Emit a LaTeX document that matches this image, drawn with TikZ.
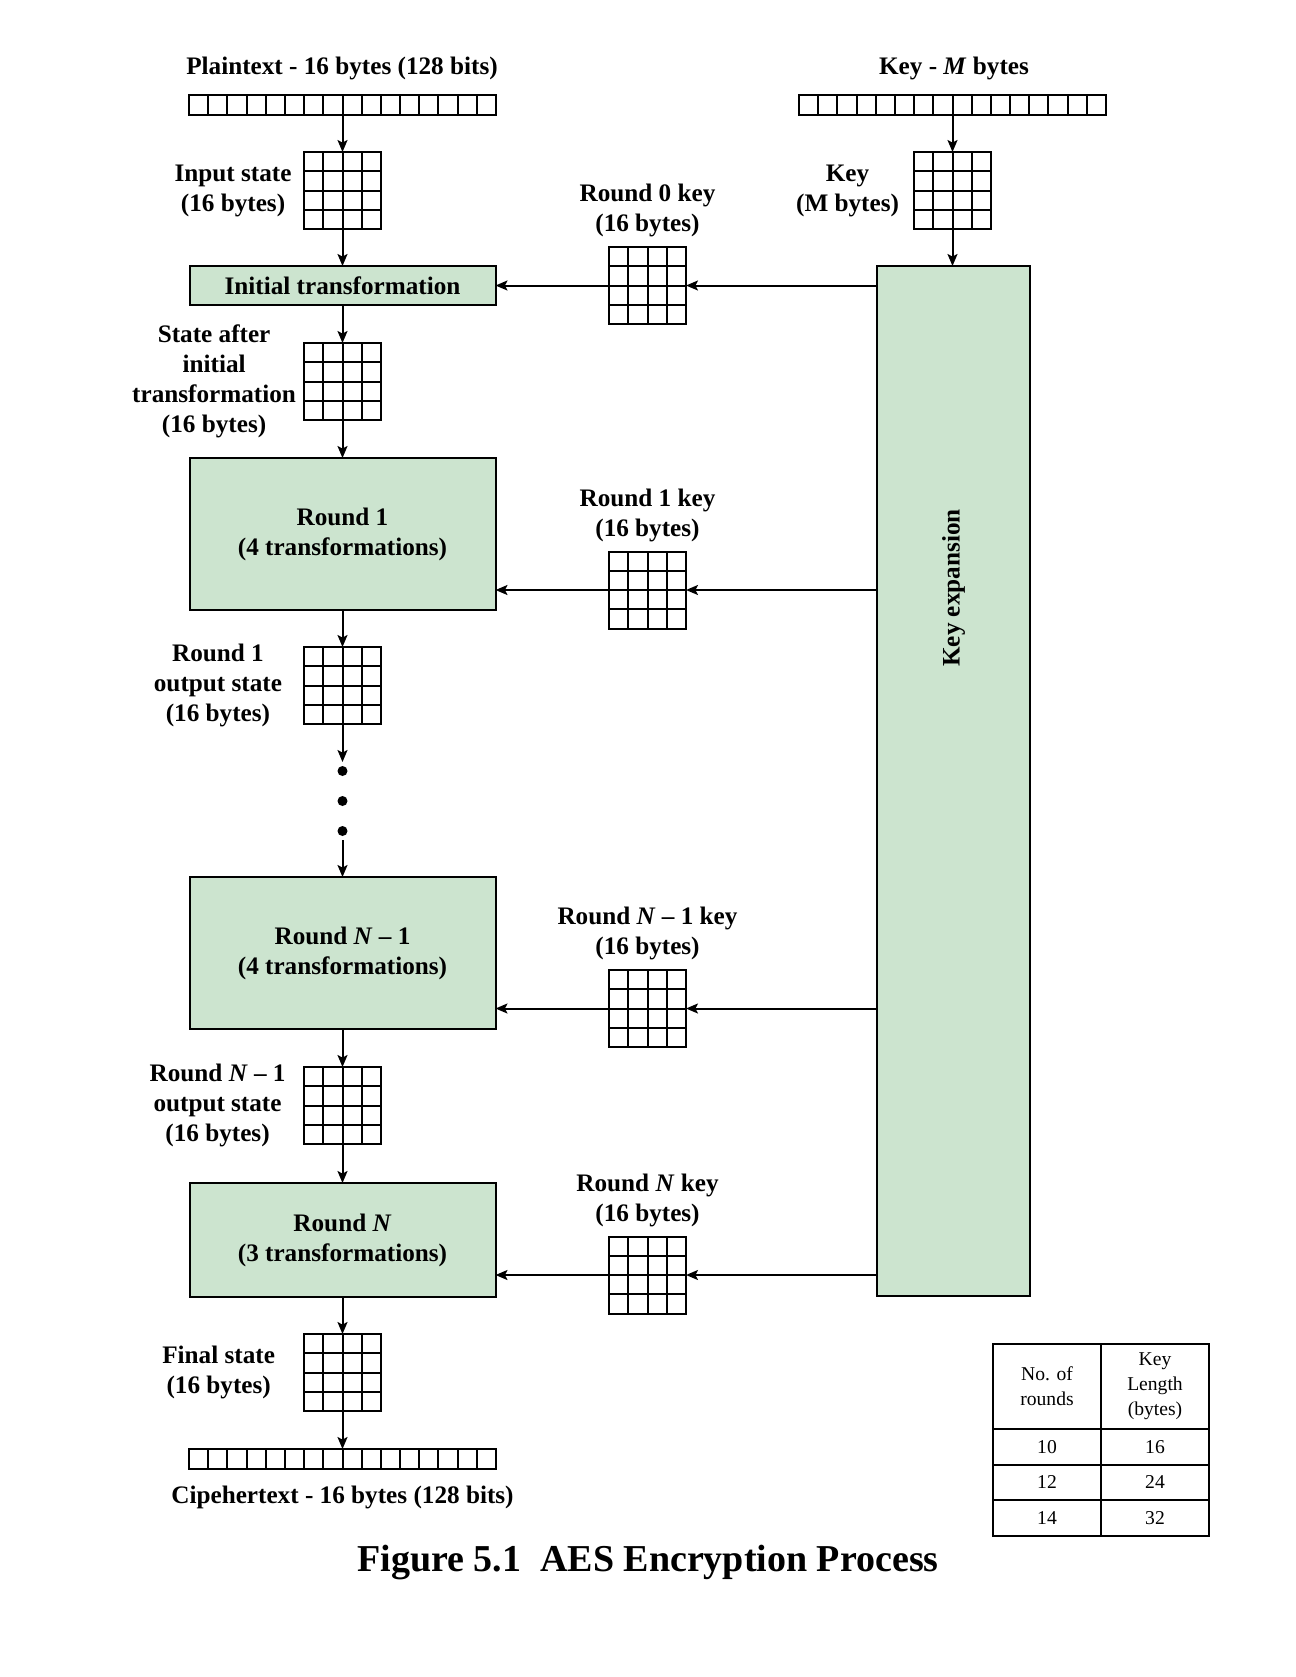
\documentclass[tikz,border=0pt]{standalone}
\usepackage{fontspec}
\setmainfont{Liberation Serif}
\usetikzlibrary{arrows.meta,positioning,calc}
\definecolor{aesgreen}{RGB}{204,228,207}

\begin{document}
\begin{tikzpicture}[
    x=0.5pt, y=-0.5pt,
    line width=1pt,
    stagebox/.style={
        rectangle,
        draw,
        fill=aesgreen,
        minimum width=153pt,
        outer sep=0pt,
        align=center,
        font=\bfseries\fontsize{12.6}{15}\selectfont
    },
    stategrid/.style={
        rectangle,
        draw,
        fill=white,
        minimum size=38.5pt,
        inner sep=0pt,
        outer sep=0pt,
        path picture={
            \foreach \i in {1,2,3} {
                \draw[line width=1pt] ($(path picture bounding box.north west)!\i/4!(path picture bounding box.north east)$)
                   -- ($(path picture bounding box.south west)!\i/4!(path picture bounding box.south east)$);
                \draw[line width=1pt] ($(path picture bounding box.north west)!\i/4!(path picture bounding box.south west)$)
                   -- ($(path picture bounding box.north east)!\i/4!(path picture bounding box.south east)$);
            }
        }
    },
    bytebar/.style={
        rectangle,
        draw,
        fill=white,
        minimum width=153.5pt,
        minimum height=10pt,
        inner sep=0pt,
        outer sep=0pt,
        path picture={
            \foreach \i in {1,...,15} {
                \draw[line width=1pt] ($(path picture bounding box.north west)!\i/16!(path picture bounding box.north east)$)
                   -- ($(path picture bounding box.south west)!\i/16!(path picture bounding box.south east)$);
            }
        }
    },
    arrow/.style={
        -{Stealth[length=6pt,width=5pt,inset=1.3pt]},
        line width=1pt
    },
    sidetext/.style={
        align=center,
        inner sep=0pt,
        font=\bfseries\fontsize{12.6}{15}\selectfont
    },
    dot/.style={
        circle,
        fill,
        inner sep=0pt,
        outer sep=0pt,
        minimum size=5pt
    },
    cell/.style={
        rectangle,
        draw,
        minimum width=54pt,
        minimum height=17.75pt,
        inner sep=0pt,
        outer sep=0pt,
        align=center,
        font=\fontsize{9.8}{12.5}\selectfont
    }
]
\useasboundingbox (0,0) rectangle (1296,1677);

% Plaintext column
\node[bytebar] (ptbar) at (342.5,105) {};
\node[sidetext] (ptlbl) at (342,68) {Plaintext - 16 bytes (128 bits)};
\node[stategrid, below=18.5pt of ptbar] (ingrid) {};
\node[stagebox, minimum height=19.5pt, below=18.5pt of ingrid] (init) {Initial transformation};
\node[stategrid, below=19pt of init] (s0grid) {};
\node[stagebox, minimum height=76pt, below=19pt of s0grid] (r1) {Round 1\\(4 transformations)};
\node[stategrid, below=18.5pt of r1] (r1grid) {};
\node[dot, below=21pt of r1grid] (dot1) {};
\node[dot, below=10pt of dot1] (dot2) {};
\node[dot, below=10pt of dot2] (dot3) {};
\node[stagebox, minimum height=76pt, below=20.5pt of dot3] (rN1) {Round \textit{N} -- 1\\(4 transformations)};
\node[stategrid, below=19pt of rN1] (rN1grid) {};
\node[stagebox, minimum height=57pt, below=19.5pt of rN1grid] (rN) {Round \textit{N}\\(3 transformations)};
\node[stategrid, below=18.5pt of rN] (fingrid) {};
\node[bytebar, below=19pt of fingrid] (ctbar) {};
\node[sidetext, below=8pt of ctbar] (ctlbl) {Cipehertext - 16 bytes (128 bits)};

% State labels
\node[sidetext, left=5.75pt of ingrid] (inlbl) {Input state\\(16 bytes)};
\node[sidetext, left=3.5pt of s0grid] (s0lbl) {State after\\initial\\transformation\\(16 bytes)};
\node[sidetext, left=10.5pt of r1grid] (r1lbl) {Round 1\\output state\\(16 bytes)};
\node[sidetext, left=8.75pt of rN1grid] (rN1lbl) {Round \textit{N} -- 1\\output state\\(16 bytes)};
\node[sidetext, left=14pt of fingrid] (finlbl) {Final state\\(16 bytes)};

% Key column
\node[bytebar] (keybar) at (952.5,105) {};
\node[sidetext] (keylbl) at (954,68) {Key - \textit{M} bytes};
\node[stategrid, below=18.5pt of keybar] (keygrid) {};
\node[sidetext, left=7pt of keygrid] (keyglbl) {Key\\(M bytes)};
\node[stagebox, minimum width=76.5pt, minimum height=515pt, anchor=north] (keyexp) at (953.5,266) {};
\node[sidetext, rotate=90] (kxlbl) at (953.5,588) {Key expansion};

% Round keys
\node[stategrid] (k0) at (647.5,285.5) {};
\node[stategrid] (k1) at (647.5,590) {};
\node[stategrid] (kN1) at (647.5,1008.5) {};
\node[stategrid] (kN) at (647.5,1275) {};
\node[sidetext, above=4.5pt of k0] (k0lbl) {Round 0 key\\(16 bytes)};
\node[sidetext, above=4.5pt of k1] (k1lbl) {Round 1 key\\(16 bytes)};
\node[sidetext, above=4.5pt of kN1] (kN1lbl) {Round \textit{N} -- 1 key\\(16 bytes)};
\node[sidetext, above=4.5pt of kN] (kNlbl) {Round \textit{N} key\\(16 bytes)};

% Arrows down the state column
\draw[arrow] (ptbar) -- (ingrid);
\draw[arrow] (ingrid) -- (init);
\draw[arrow] (init) -- (s0grid);
\draw[arrow] (s0grid) -- (r1);
\draw[arrow] (r1) -- (r1grid);
\draw[arrow, shorten >=2pt] (r1grid) -- (dot1);
\draw[arrow, shorten <=2pt] (dot3) -- (rN1);
\draw[arrow] (rN1) -- (rN1grid);
\draw[arrow] (rN1grid) -- (rN);
\draw[arrow] (rN) -- (fingrid);
\draw[arrow] (fingrid) -- (ctbar);

% Arrows in the key column
\draw[arrow] (keybar) -- (keygrid);
\draw[arrow] (keygrid.south) -- (keygrid.south |- keyexp.north);
\foreach \k/\b in {k0/init, k1/r1, kN1/rN1, kN/rN} {
    \draw[arrow] (keyexp.west |- \k.east) -- (\k.east);
    \draw[arrow] (\k.west) -- (\b.east |- \k.west);
}

% Table of rounds
\node[cell, minimum height=42.5pt] (th1) at (1047,1386.5) {No. of\\rounds};
\node[cell, minimum height=42.5pt, right=0pt of th1] (th2) {Key\\Length\\(bytes)};
\node[cell, below=0pt of th1] (ta1) {10};
\node[cell, below=0pt of th2] (ta2) {16};
\node[cell, below=0pt of ta1] (tb1) {12};
\node[cell, below=0pt of ta2] (tb2) {24};
\node[cell, below=0pt of tb1] (tc1) {14};
\node[cell, below=0pt of tb2] (tc2) {32};

% Caption
\node[font=\bfseries\fontsize{19}{23}\selectfont] (caption) at (648,1562) {Figure 5.1\hspace{0.5em}AES Encryption Process};

\end{tikzpicture}
\end{document}
